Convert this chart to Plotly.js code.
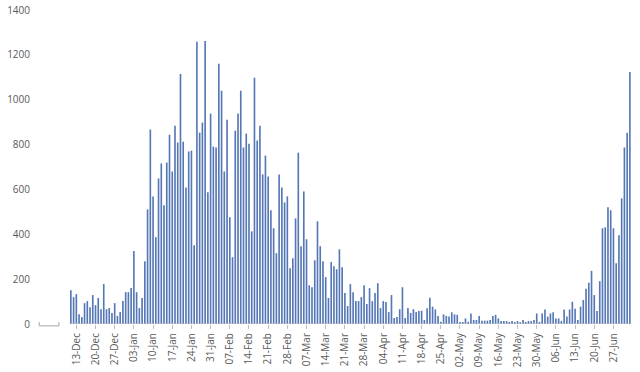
<!DOCTYPE html>
<html>
<head>
<meta charset="utf-8">
<script src="https://cdn.plot.ly/plotly-3.0.1.min.js"></script>
<style>html,body{margin:0;padding:0;background:#fff;}#chart{width:640px;height:372px;}</style>
</head>
<body>
<div id="chart"></div>
<script>
// First day of the daily series and the weekly tick labels
const startDate = '2020-12-11';
const tickStart = '2020-12-13';
const tickLabels = ['13-Dec','20-Dec','27-Dec','03-Jan','10-Jan','17-Jan','24-Jan','31-Jan','07-Feb','14-Feb','21-Feb','28-Feb','07-Mar','14-Mar','21-Mar','28-Mar','04-Apr','11-Apr','18-Apr','25-Apr','02-May','09-May','16-May','23-May','30-May','06-Jun','13-Jun','20-Jun','27-Jun'];

// Daily values, December
const valuesDec = [150,120,133,44,31,93,102,75,129,84,116,66,178,66,71,49,93,36,53,102,142];
// January
const valuesJan = [142,160,325,142,71,116,280,511,867,569,387,649,716,529,720,844,680,884,809,1115,813,609,769,773,351,1258,853,898,1262,587,938];
// February
const valuesFeb = [791,787,1160,1040,680,911,476,298,862,938,1040,787,849,804,413,1098,818,884,667,751,658,507,427,316,667,609,542,569];
// March
const valuesMar = [249,293,471,764,347,591,378,173,164,284,458,347,280,209,116,276,258,244,333,253,138,80,178,142,102,102,120,173,89,160,102];
// April
const valuesApr = [138,182,71,102,98,53,129,27,31,66,164,27,71,49,66,53,58,59,18,70,117,77,65,36,10,43,36,33,52,43];
// May
const valuesMay = [41,9,9,25,10,47,18,18,36,15,15,15,18,36,41,25,13,13,13,9,13,9,13,8,18,9,13,13,18,47,9];
// June / July
const valuesJun = [47,65,33,47,52,25,25,14,65,33,65,99,68,18,77,107,157,184,237,129,58,191,427,431,520,507,427,271,396,560,787,853,1124];

const values = [].concat(valuesDec, valuesJan, valuesFeb, valuesMar, valuesApr, valuesMay, valuesJun);

function addDays(iso, n) {
  const d = new Date(iso + 'T00:00:00Z');
  d.setUTCDate(d.getUTCDate() + n);
  return d.toISOString().slice(0, 10);
}
const dates = values.map((v, i) => addDays(startDate, i));
const tickVals = tickLabels.map((t, i) => addDays(tickStart, 7 * i));

const trace = {
  type: 'bar',
  x: dates,
  y: values,
  marker: {color: '#5577b6', line: {width: 0}},
  hoverinfo: 'x+y'
};

const layout = {
  width: 640, height: 372,
  margin: {l: 35, r: 6, t: 10, b: 48},
  paper_bgcolor: '#ffffff', plot_bgcolor: '#ffffff',
  bargap: 0.4,
  showlegend: false,
  font: {family: 'Open Sans, Liberation Sans, sans-serif', color: '#595959', size: 10},
  xaxis: {
    type: 'date',
    range: ['2020-11-27 22:00', '2021-07-04 12:00'],
    tickmode: 'array', tickvals: tickVals, ticktext: tickLabels,
    tickangle: -90,
    ticks: 'outside', ticklen: 4, tickcolor: '#bfbfbf', tickwidth: 1,
    showgrid: false, zeroline: false, showline: false,
    tickfont: {size: 10, color: '#595959'}
  },
  yaxis: {
    range: [0, 1400],
    tickmode: 'linear', tick0: 0, dtick: 200,
    showgrid: false, zeroline: false, showline: false,
    ticks: '', ticklabelstandoff: 4,
    tickfont: {size: 10, color: '#595959'}
  },
  shapes: [
    {type: 'line', xref: 'x', yref: 'y', x0: addDays(startDate, -1) + ' 12:00', x1: addDays(startDate, values.length - 1) + ' 12:00', y0: 0, y1: 0,
     line: {color: '#bfbfbf', width: 1}},
    {type: 'path', xref: 'paper', yref: 'paper', path: 'M 0.007 0.006 L 0.007 -0.006 L 0.040 -0.006 L 0.040 0.006',
     line: {color: '#a6a6a6', width: 1}}
  ]
};

Plotly.newPlot('chart', [trace], layout, {displayModeBar: false, staticPlot: true});
</script>
</body>
</html>
